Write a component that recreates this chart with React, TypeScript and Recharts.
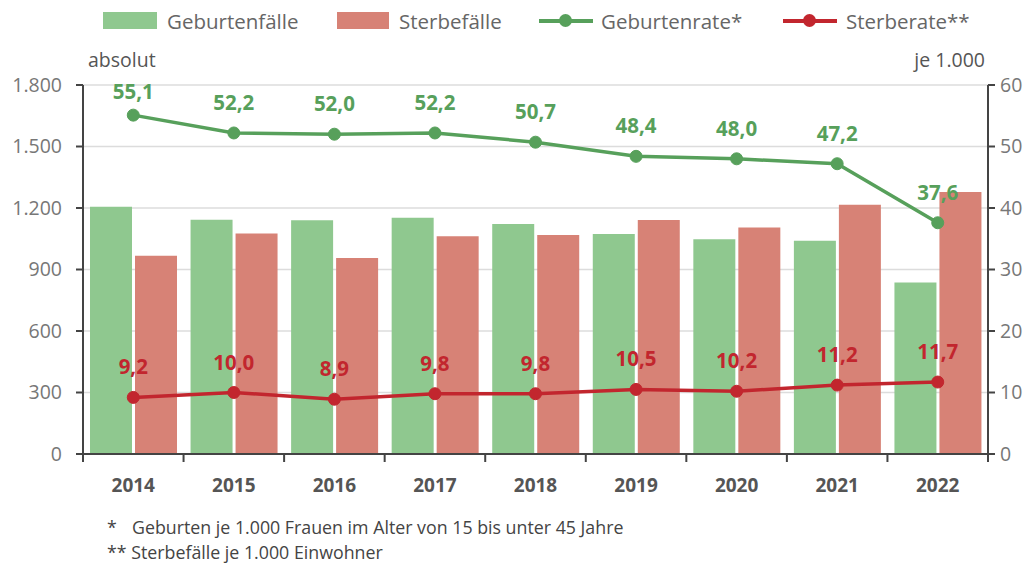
import { ComposedChart, Bar, Line, XAxis, YAxis, CartesianGrid, LabelList } from 'recharts'

const years = ['2014', '2015', '2016', '2017', '2018', '2019', '2020', '2021', '2022']
const geburtenfaelle = [1206, 1143, 1140, 1153, 1122, 1073, 1047, 1040, 837]
const sterbefaelle = [967, 1076, 956, 1062, 1068, 1141, 1105, 1216, 1278]
const geburtenrate = [55.1, 52.2, 52.0, 52.2, 50.7, 48.4, 48.0, 47.2, 37.6]
const sterberate = [9.2, 10.0, 8.9, 9.8, 9.8, 10.5, 10.2, 11.2, 11.7]

const leftTicks = [0, 300, 600, 900, 1200, 1500, 1800]
const rightTicks = [0, 10, 20, 30, 40, 50, 60]

const GREEN_BAR = '#8fc88f'
const RED_BAR = '#d78276'
const GREEN_LINE = '#57a05b'
const RED_LINE = '#c2262e'
const FONT = '"Open Sans", "Noto Sans", sans-serif'

const data = years.map((year, i) => ({
  year,
  geburtenfaelle: geburtenfaelle[i],
  sterbefaelle: sterbefaelle[i],
  geburtenrate: geburtenrate[i],
  sterberate: sterberate[i],
}))

const fmtThousands = (v: number) => String(v).replace(/\B(?=(\d{3})+(?!\d))/g, '.')
const fmtDecimal = (v: any) => Number(v).toFixed(1).replace('.', ',')

// plot area is fixed, so the band width can be computed here
const PLOT_LEFT = 83
const PLOT_RIGHT = 988
const BAND = (PLOT_RIGHT - PLOT_LEFT) / years.length

const YearTick = ({ x, y, payload, index }: any) => (
  <g>
    <line x1={x - BAND / 2} x2={x - BAND / 2} y1={y} y2={y + 8} stroke="#444" strokeWidth={2} />
    {index === years.length - 1 && (
      <line x1={x + BAND / 2} x2={x + BAND / 2} y1={y} y2={y + 8} stroke="#444" strokeWidth={2} />
    )}
    <text x={x} y={y + 38} textAnchor="middle" fontSize={19} fontWeight={700} fill="#555" fontFamily={FONT}>
      {payload.value}
    </text>
  </g>
)

// value label above a point, kept inside the plot top
const makePointLabel = (color: string) => (props: any) => {
  const x = props.x ?? props.viewBox?.x
  const y = props.y ?? props.viewBox?.y
  return (
    <text
      x={x}
      y={Math.max(y - 31, 91)}
      textAnchor="middle"
      dominantBaseline="central"
      fill={color}
      fontSize={20.5}
      fontWeight={700}
      fontFamily={FONT}
    >
      {fmtDecimal(props.value)}
    </text>
  )
}

const legendText = { position: 'absolute' as const, top: 7, fontSize: 20.5, color: '#666', fontFamily: FONT }

export default function App() {
  return (
    <div style={{ position: 'absolute', left: 0, top: 0, width: 1035, height: 565, background: '#fff', fontFamily: FONT }}>
      {/* legend */}
      <div style={{ position: 'absolute', left: 103, top: 12, width: 54, height: 17, background: GREEN_BAR }} />
      <div style={{ ...legendText, left: 167 }}>Geburtenfälle</div>
      <div style={{ position: 'absolute', left: 337, top: 12, width: 52, height: 17, background: RED_BAR }} />
      <div style={{ ...legendText, left: 399 }}>Sterbefälle</div>
      <div style={{ position: 'absolute', left: 539, top: 19, width: 54, height: 4, background: GREEN_LINE }} />
      <div style={{ position: 'absolute', left: 559, top: 14, width: 13, height: 13, borderRadius: 7, background: GREEN_LINE }} />
      <div style={{ ...legendText, left: 601 }}>Geburtenrate*</div>
      <div style={{ position: 'absolute', left: 783, top: 19, width: 54, height: 4, background: RED_LINE }} />
      <div style={{ position: 'absolute', left: 803, top: 14, width: 13, height: 13, borderRadius: 7, background: RED_LINE }} />
      <div style={{ ...legendText, left: 846 }}>Sterberate**</div>

      {/* axis titles */}
      <div style={{ position: 'absolute', left: 88, top: 46, fontSize: 19.5, color: '#555' }}>absolut</div>
      <div style={{ position: 'absolute', right: 50, top: 46, fontSize: 19.5, color: '#555' }}>je 1.000</div>

      <ComposedChart
        width={1035}
        height={565}
        data={data}
        margin={{ top: 85, right: 0, bottom: 71, left: 0 }}
        barCategoryGap={7}
        barGap={3}
      >
        <CartesianGrid yAxisId="left" vertical={false} stroke="#dcdcdc" strokeWidth={1.5} />
        <XAxis
          dataKey="year"
          height={40}
          axisLine={{ stroke: '#444', strokeWidth: 2 }}
          tickLine={false}
          tickSize={0}
          tickMargin={0}
          tick={<YearTick />}
          interval={0}
        />
        <YAxis
          yAxisId="left"
          width={83}
          domain={[0, 1800]}
          ticks={leftTicks}
          tickFormatter={fmtThousands}
          axisLine={{ stroke: '#444', strokeWidth: 2 }}
          tickLine={{ stroke: '#444', strokeWidth: 2 }}
          tickSize={7}
          tickMargin={14}
          tick={{ fontSize: 19.5, fill: '#777', fontFamily: FONT }}
        />
        <YAxis
          yAxisId="right"
          orientation="right"
          width={47}
          domain={[0, 60]}
          ticks={rightTicks}
          axisLine={{ stroke: '#444', strokeWidth: 2 }}
          tickLine={{ stroke: '#444', strokeWidth: 2 }}
          tickSize={7}
          tickMargin={5}
          tick={{ fontSize: 19.5, fill: '#777', fontFamily: FONT }}
        />
        <Bar yAxisId="left" dataKey="geburtenfaelle" name="Geburtenfälle" fill={GREEN_BAR} isAnimationActive={false} />
        <Bar yAxisId="left" dataKey="sterbefaelle" name="Sterbefälle" fill={RED_BAR} isAnimationActive={false} />
        <Line
          yAxisId="right"
          dataKey="geburtenrate"
          name="Geburtenrate*"
          stroke={GREEN_LINE}
          strokeWidth={3.5}
          dot={{ r: 6, fill: GREEN_LINE, stroke: GREEN_LINE, strokeWidth: 1 }}
          isAnimationActive={false}
        >
          <LabelList dataKey="geburtenrate" content={makePointLabel(GREEN_LINE)} />
        </Line>
        <Line
          yAxisId="right"
          dataKey="sterberate"
          name="Sterberate**"
          stroke={RED_LINE}
          strokeWidth={3.5}
          dot={{ r: 6, fill: RED_LINE, stroke: RED_LINE, strokeWidth: 1 }}
          isAnimationActive={false}
        >
          <LabelList dataKey="sterberate" content={makePointLabel(RED_LINE)} />
        </Line>
      </ComposedChart>

      {/* footnotes */}
      <div style={{ position: 'absolute', left: 107, top: 515, fontSize: 17.8, color: '#444' }}>
        <span style={{ display: 'inline-block', width: 25 }}>*</span>Geburten je 1.000 Frauen im Alter von 15 bis unter 45 Jahre
      </div>
      <div style={{ position: 'absolute', left: 107, top: 540, fontSize: 17.8, color: '#444' }}>
        ** Sterbefälle je 1.000 Einwohner
      </div>
    </div>
  )
}
